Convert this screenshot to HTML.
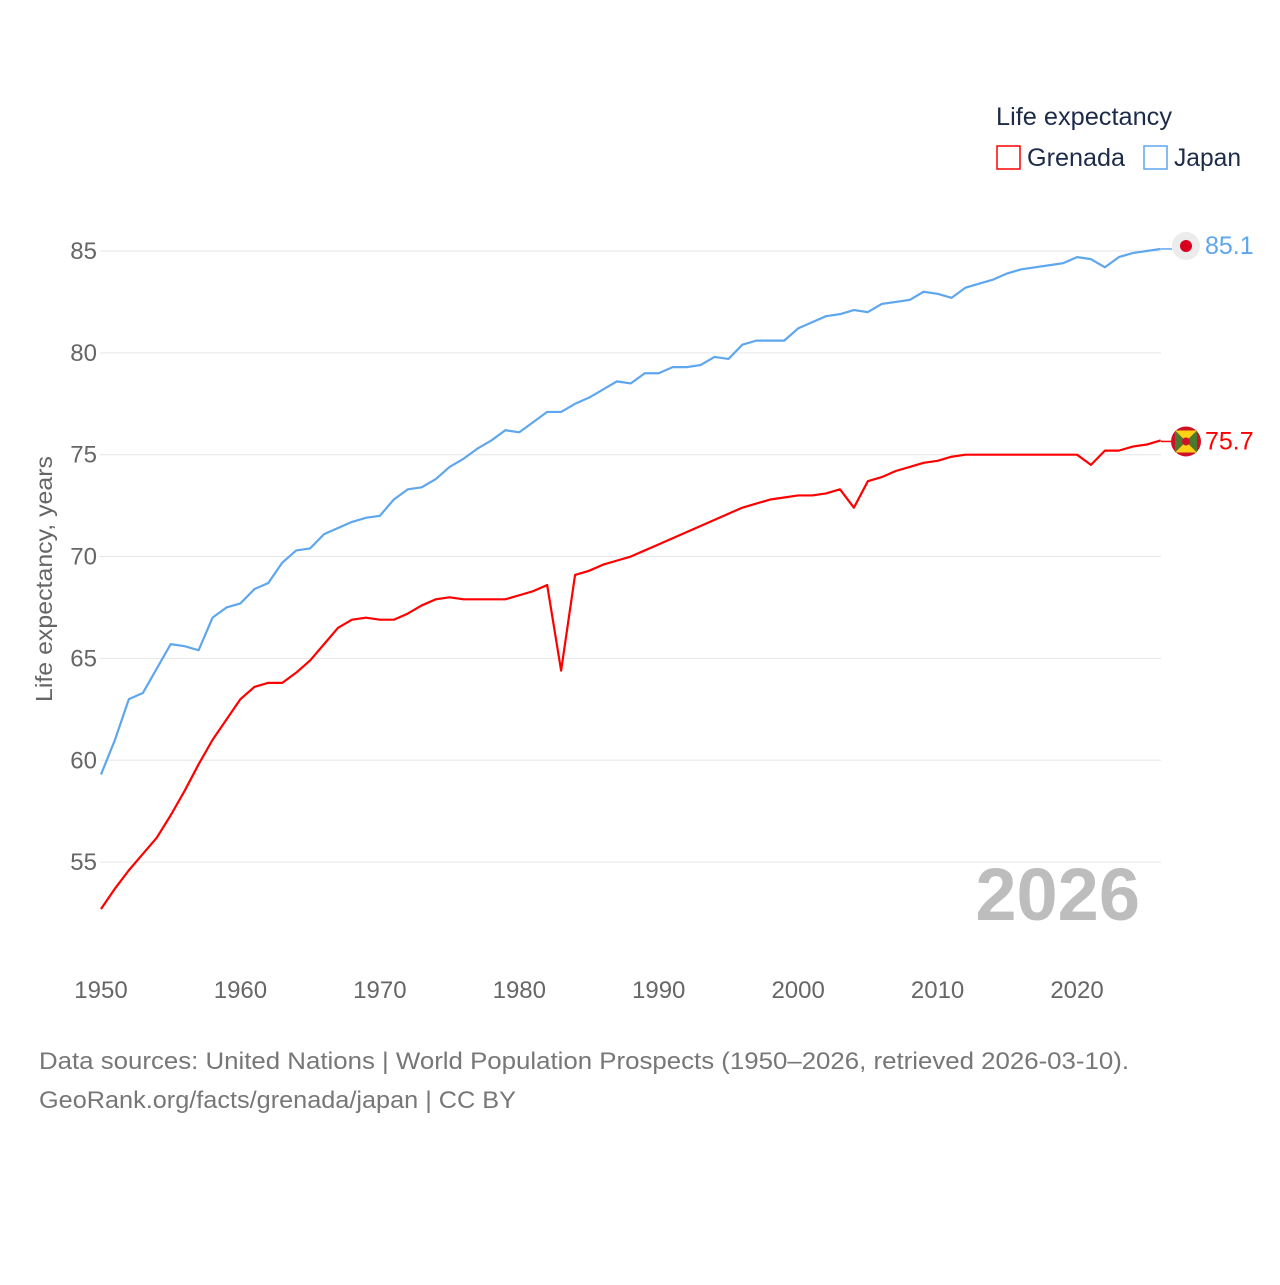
<!DOCTYPE html>
<html><head><meta charset="utf-8"><style>
body{margin:0;background:#fff;font-family:"Liberation Sans",sans-serif}
svg text{font-family:"Liberation Sans",sans-serif}
</style></head><body>
<svg width="1280" height="1280" viewBox="0 0 1280 1280">
<g id="grid"></g>
<g id="yticks"></g>
<g id="xticks"></g>
<text x="52" y="579" transform="rotate(-90 52 579)" text-anchor="middle" font-size="23" fill="#666" textLength="246" lengthAdjust="spacingAndGlyphs">Life expectancy, years</text>
<text x="1140" y="920" text-anchor="end" font-size="74" font-weight="bold" fill="#bdbdbd">2026</text>
<g id="series"></g>
<text x="996" y="125" font-size="25" fill="#1d2b4a" textLength="176" lengthAdjust="spacingAndGlyphs">Life expectancy</text>
<g><rect x="997" y="146" width="23" height="23" fill="none" stroke="#ff0000" stroke-width="1.5"/><text x="1027" y="166" font-size="25" fill="#1d2b4a" textLength="98" lengthAdjust="spacingAndGlyphs">Grenada</text></g>
<g><rect x="1144" y="146" width="23" height="23" fill="none" stroke="#5ea6ee" stroke-width="1.5"/><text x="1174" y="166" font-size="25" fill="#1d2b4a" textLength="67" lengthAdjust="spacingAndGlyphs">Japan</text></g>
<g id="ends"></g>
<text x="39" y="1069" font-size="24" fill="#777" textLength="1090" lengthAdjust="spacingAndGlyphs">Data sources: United Nations | World Population Prospects (1950–2026, retrieved 2026-03-10).</text>
<text x="39" y="1108" font-size="24" fill="#777" textLength="477" lengthAdjust="spacingAndGlyphs">GeoRank.org/facts/grenada/japan | CC BY</text>
</svg>
<script>
const years=[];for(let y=1950;y<=2026;y++)years.push(y);
const japan=[59.3,61.0,63.0,63.3,64.5,65.7,65.6,65.4,67.0,67.5,67.7,68.4,68.7,69.7,70.3,70.4,71.1,71.4,71.7,71.9,72.0,72.8,73.3,73.4,73.8,74.4,74.8,75.3,75.7,76.2,76.1,76.6,77.1,77.1,77.5,77.8,78.2,78.6,78.5,79.0,79.0,79.3,79.3,79.4,79.8,79.7,80.4,80.6,80.6,80.6,81.2,81.5,81.8,81.9,82.1,82.0,82.4,82.5,82.6,83.0,82.9,82.7,83.2,83.4,83.6,83.9,84.1,84.2,84.3,84.4,84.7,84.6,84.2,84.7,84.9,85.0,85.1];
const grenada=[52.7,53.7,54.6,55.4,56.2,57.3,58.5,59.8,61.0,62.0,63.0,63.6,63.8,63.8,64.3,64.9,65.7,66.5,66.9,67.0,66.9,66.9,67.2,67.6,67.9,68.0,67.9,67.9,67.9,67.9,68.1,68.3,68.6,64.4,69.1,69.3,69.6,69.8,70.0,70.3,70.6,70.9,71.2,71.5,71.8,72.1,72.4,72.6,72.8,72.9,73.0,73.0,73.1,73.3,72.4,73.7,73.9,74.2,74.4,74.6,74.7,74.9,75.0,75.0,75.0,75.0,75.0,75.0,75.0,75.0,75.0,74.5,75.2,75.2,75.4,75.5,75.7];
const yTicks=[55,60,65,70,75,80,85];
const xTicks=[1950,1960,1970,1980,1990,2000,2010,2020];
const NS="http://www.w3.org/2000/svg";
const X=y=>101+(y-1950)*13.943;
const Y=v=>251+(85-v)*20.37;
function mk(t,a,p){const e=document.createElementNS(NS,t);for(const k in a)e.setAttribute(k,a[k]);p.appendChild(e);return e;}
const grid=document.getElementById('grid'),yt=document.getElementById('yticks'),xt=document.getElementById('xticks');
yTicks.forEach(v=>{
 const l=mk('line',{x1:100,x2:1161,y1:Y(v),y2:Y(v),stroke:'#e6e6e6','stroke-width':1},grid);
 
 
 const t=mk('text',{x:97,y:Y(v)+8,'text-anchor':'end','font-size':24,fill:'#666'},yt);t.textContent=v;
 
 
});
xTicks.forEach(v=>{
 const t=mk('text',{x:X(v),y:998,'text-anchor':'middle','font-size':24,fill:'#666'},xt);t.textContent=v;
 
 
});
const sg=document.getElementById('series');
[[japan,'#5ea6ee','japan-line'],[grenada,'#ff0000','grenada-line']].forEach(([d,c,n])=>{
 const p=mk('polyline',{points:d.map((v,i)=>X(years[i])+','+Y(v)).join(' '),fill:'none',stroke:c,'stroke-width':2.2,'stroke-linejoin':'round'},sg);
 
 
});
const ends=document.getElementById('ends');
const jl=japan[japan.length-1],gl=grenada[grenada.length-1];
const jg=mk('g',{},ends);


mk('line',{x1:1161,x2:1172,y1:Y(jl),y2:Y(jl),stroke:'#5ea6ee','stroke-width':1.5},jg);
mk('circle',{cx:1186,cy:Y(jl)-3,r:14,fill:'#ececec'},jg);
mk('circle',{cx:1186,cy:Y(jl)-3,r:6,fill:'#d7001f'},jg);
let t=mk('text',{x:1205,y:Y(jl)+5,'font-size':25,fill:'#5ea6ee'},jg);t.textContent=jl.toFixed(1);
const gg=mk('g',{},ends);


const gy=Y(gl)+1;
mk('line',{x1:1161,x2:1172,y1:gy,y2:gy,stroke:'#ff0000','stroke-width':1.5},gg);
mk('circle',{cx:1186,cy:gy,r:15,fill:'#ce1126'},gg);
mk('polygon',{points:`1175,${gy-11} 1197,${gy-11} 1186,${gy}`,fill:'#fcd116'},gg);
mk('polygon',{points:`1175,${gy+11} 1197,${gy+11} 1186,${gy}`,fill:'#fcd116'},gg);
mk('polygon',{points:`1175,${gy-11} 1175,${gy+11} 1186,${gy}`,fill:'#4b7a2f'},gg);
mk('polygon',{points:`1197,${gy-11} 1197,${gy+11} 1186,${gy}`,fill:'#4b7a2f'},gg);
mk('circle',{cx:1186,cy:gy,r:4,fill:'#ce1126'},gg);
t=mk('text',{x:1205,y:gy+8,'font-size':25,fill:'#ff0000'},gg);t.textContent=gl.toFixed(1);
</script>
</body></html>
